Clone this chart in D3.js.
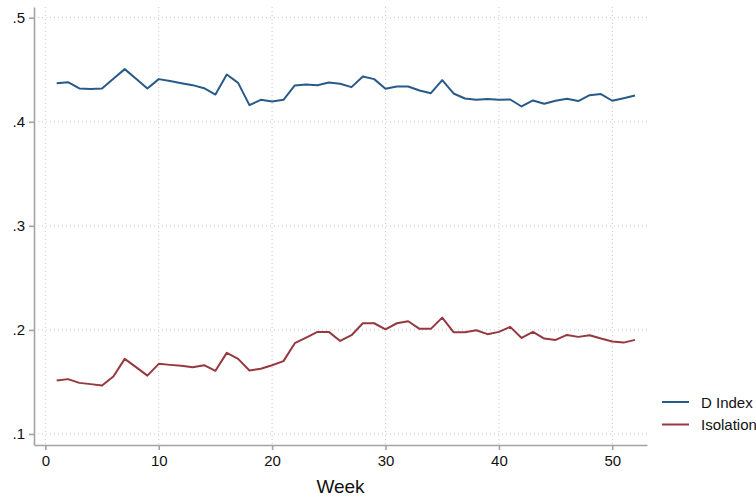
<!DOCTYPE html>
<html>
<head>
<meta charset="utf-8">
<script src="https://cdn.jsdelivr.net/npm/d3@7"></script>
<style>
  body { margin: 0; background: #fff; }
  text { font-family: "Liberation Sans", Arial, sans-serif; fill: #111; }
</style>
</head>
<body>
<div id="chart"></div>
<script>
// weekly values
var weeks = [1,2,3,4,5,6,7,8,9,10,11,12,13,14,15,16,17,18,19,20,21,22,23,24,25,26,
             27,28,29,30,31,32,33,34,35,36,37,38,39,40,41,42,43,44,45,46,47,48,49,50,51,52];

var dIndex = [0.4371,0.4381,0.4320,0.4314,0.4320,0.4413,0.4506,0.4413,0.4320,0.4410,
              0.4391,0.4371,0.4352,0.4323,0.4262,0.4454,0.4374,0.4160,0.4211,0.4195,
              0.4211,0.4349,0.4358,0.4352,0.4377,0.4365,0.4333,0.4435,0.4410,0.4317,
              0.4339,0.4339,0.4300,0.4275,0.4400,0.4272,0.4224,0.4211,0.4218,0.4211,
              0.4214,0.4147,0.4205,0.4173,0.4202,0.4221,0.4199,0.4256,0.4266,0.4202,
              0.4227,0.4252];

var isolation = [0.1513,0.1527,0.1491,0.1479,0.1466,0.1552,0.1722,0.1642,0.1561,0.1674,
                 0.1664,0.1655,0.1642,0.1661,0.1607,0.1779,0.1722,0.1610,0.1626,0.1661,
                 0.1700,0.1872,0.1926,0.1981,0.1981,0.1894,0.1949,0.2064,0.2064,0.2006,
                 0.2064,0.2083,0.2010,0.2010,0.2118,0.1978,0.1978,0.1997,0.1959,0.1981,
                 0.2029,0.1923,0.1981,0.1917,0.1904,0.1952,0.1933,0.1949,0.1917,0.1888,
                 0.1878,0.1904];

var seriesNames = ["D Index", "Isolation"];
var seriesColors = ["#285a88", "#96383f"];

var xTicks = [0, 10, 20, 30, 40, 50];
var yTicks = [0.1, 0.2, 0.3, 0.4, 0.5];
var xTitle = "Week";

var svgWidth = 756;
var svgHeight = 500;
var margin = {top: 7, right: 109, bottom: 55, left: 34};
var chartWidth = svgWidth - margin.left - margin.right;
var chartHeight = svgHeight - margin.top - margin.bottom;

var svg = d3.select("#chart")
    .append("svg")
    .attr("width", svgWidth)
    .attr("height", svgHeight);

var chartGroup = svg.append("g")
    .attr("transform", `translate(${margin.left}, ${margin.top})`);

var xScale = d3.scaleLinear()
    .domain([-1, 53.06])
    .range([0, chartWidth]);

var yScale = d3.scaleLinear()
    .domain([0.0894, 0.5103])
    .range([chartHeight, 0]);

// dotted grid
chartGroup.append("g")
    .selectAll("line")
    .data(yTicks)
    .enter().append("line")
    .attr("x1", 0)
    .attr("x2", chartWidth)
    .attr("y1", d => yScale(d))
    .attr("y2", d => yScale(d))
    .attr("stroke", "#c8c8c8")
    .attr("stroke-width", 1)
    .attr("stroke-dasharray", "1,3");

chartGroup.append("g")
    .selectAll("line")
    .data(xTicks)
    .enter().append("line")
    .attr("x1", d => xScale(d))
    .attr("x2", d => xScale(d))
    .attr("y1", 0)
    .attr("y2", chartHeight)
    .attr("stroke", "#c8c8c8")
    .attr("stroke-width", 1)
    .attr("stroke-dasharray", "1,3");

// axes
var fmtY = v => d3.format(".1f")(v).replace(/^0/, "");

var xAxis = d3.axisBottom(xScale).tickValues(xTicks).tickSize(5).tickPadding(5).tickSizeOuter(0);
var yAxis = d3.axisLeft(yScale).tickValues(yTicks).tickSize(5).tickPadding(4).tickSizeOuter(0).tickFormat(fmtY);

var gx = chartGroup.append("g")
    .attr("transform", `translate(0, ${chartHeight})`)
    .call(xAxis);

var gy = chartGroup.append("g")
    .call(yAxis);

[gx, gy].forEach(function(g) {
    g.selectAll("path, line").attr("stroke", "#a3a3a3").attr("stroke-width", 1.6);
    g.selectAll("text")
        .attr("font-size", "15px")
        .attr("font-family", "Liberation Sans, Arial, sans-serif")
        .attr("fill", "#111");
});

chartGroup.append("text")
    .attr("x", chartWidth / 2)
    .attr("y", chartHeight + 48)
    .attr("text-anchor", "middle")
    .attr("font-size", "19px")
    .text(xTitle);

// lines
var allSeries = [dIndex, isolation];
var line = d3.line()
    .x((d, i) => xScale(weeks[i]))
    .y(d => yScale(d));

allSeries.forEach(function(vals, k) {
    chartGroup.append("path")
        .datum(vals)
        .attr("d", line)
        .attr("fill", "none")
        .attr("stroke", seriesColors[k])
        .attr("stroke-width", 2)
        .attr("stroke-linejoin", "round");
});

// legend
var legend = svg.append("g")
    .attr("transform", "translate(662, 402)");

seriesNames.forEach(function(name, k) {
    legend.append("line")
        .attr("x1", 0)
        .attr("x2", 27)
        .attr("y1", k * 22.5)
        .attr("y2", k * 22.5)
        .attr("stroke", seriesColors[k])
        .attr("stroke-width", 2);
    legend.append("text")
        .attr("x", 39)
        .attr("y", k * 22.5 + 5.5)
        .attr("font-size", "15px")
        .text(name);
});
</script>
</body>
</html>
